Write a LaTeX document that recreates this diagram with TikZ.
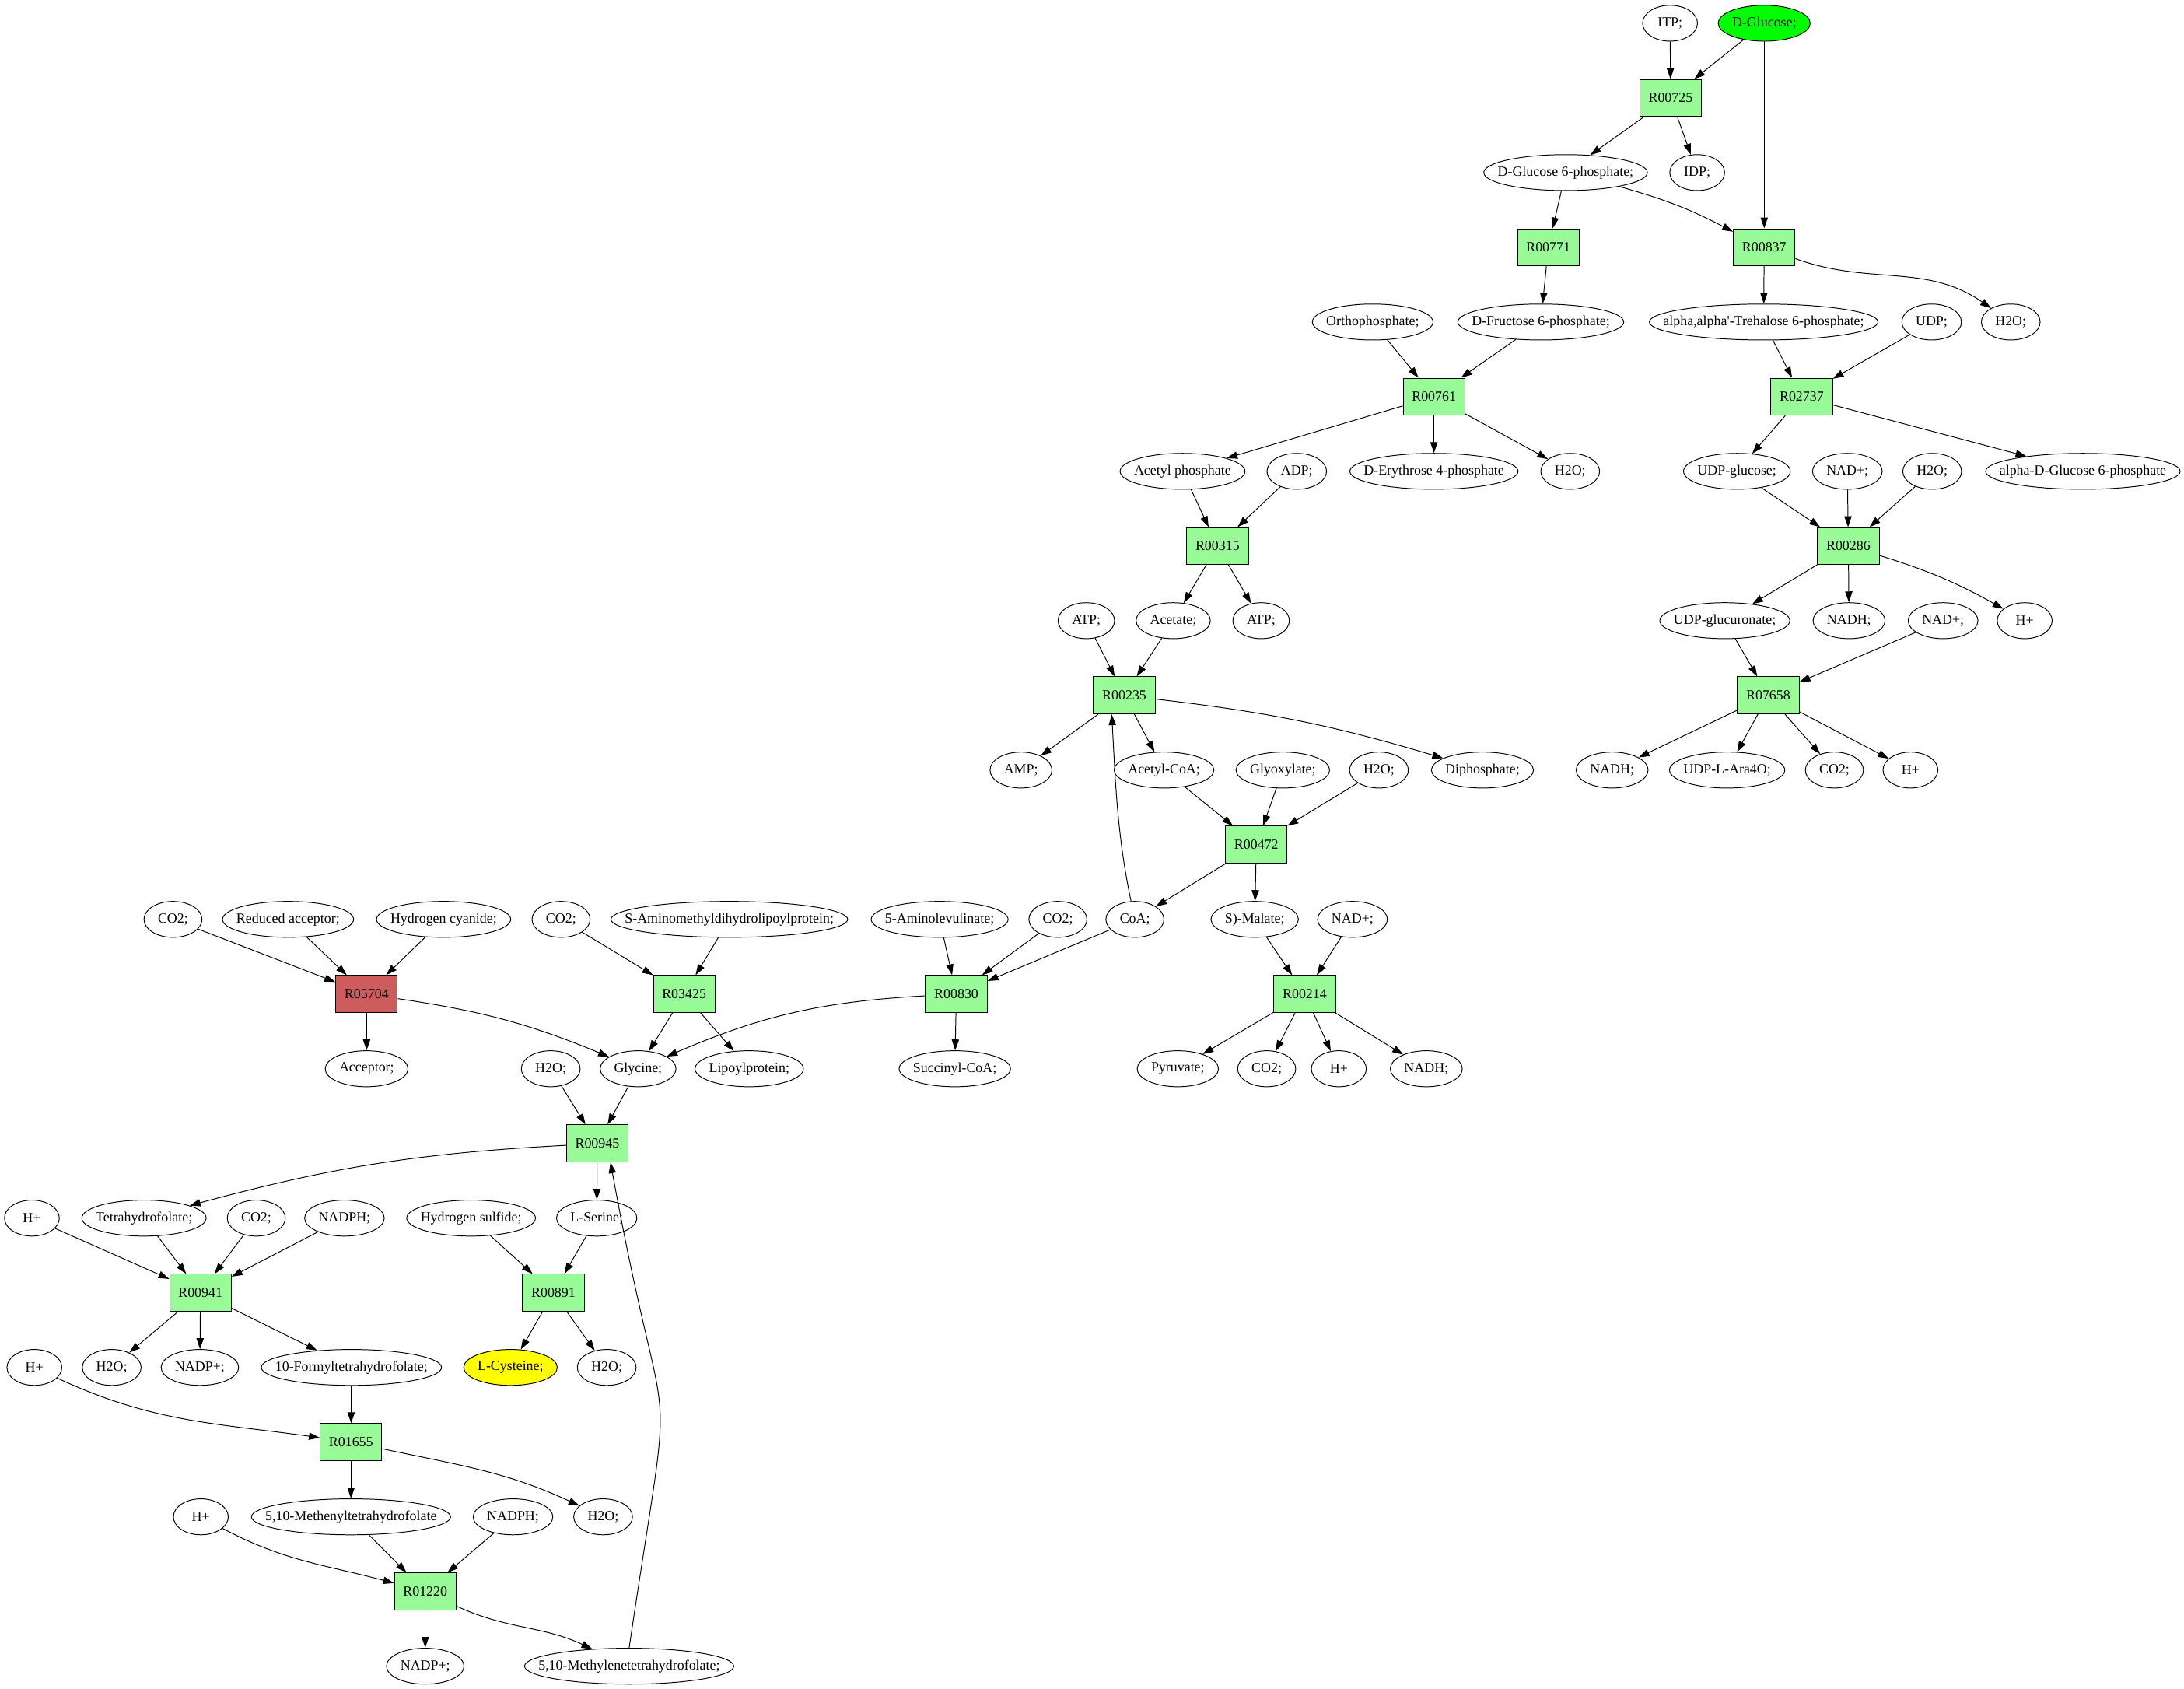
\documentclass[tikz,border=0pt]{standalone}
\usepackage{fontspec}
\setmainfont{Liberation Serif}
\usetikzlibrary{shapes.geometric, arrows.meta}
\newsavebox{\metbox}
\definecolor{rxngreen}{HTML}{98FB98}
\definecolor{rxnred}{HTML}{CD5C5C}
\definecolor{glcgreen}{HTML}{00FF00}
\definecolor{cysyellow}{HTML}{FFFF00}
\tikzset{
	rxn/.style={draw, rectangle, fill=rxngreen, minimum height=26.6pt, inner xsep=6.3pt},
	met/.style={draw, ellipse, minimum width=39.4pt, minimum height=25.8pt, inner xsep=7.07pt, inner ysep=1pt,
		execute at begin node={\setbox\metbox=\hbox\bgroup},
		execute at end node={\egroup\hbox to 0.7071\wd\metbox{\hss\usebox{\metbox}\hss}}},
}

\begin{document}
\begin{tikzpicture}
			[x=1pt, y=-1pt, line width=.55pt, >={Triangle[length=7.8pt,width=5.2pt]},
			font=\fontsize{10pt}{12pt}\selectfont]
			\useasboundingbox (0,0) rectangle (1568,1212);
			% nodes %
			\node[met] (itp) at (1199,16.7) {ITP;};
			\node[met, fill=glcgreen] (glc) at (1266.6,16.7) {D-Glucose;};
			\node[rxn] (r00725) at (1199.4,70.3) {R00725};
			\node[met] (g6p) at (1124,123.9) {D-Glucose 6-phosphate;};
			\node[met] (idp) at (1218.5,123.9) {IDP;};
			\node[rxn] (r00771) at (1111.6,177.5) {R00771};
			\node[rxn] (r00837) at (1266.6,177.5) {R00837};
			\node[met] (orthop) at (985.5,231.1) {Orthophosphate;};
			\node[met] (f6p) at (1106.2,231.1) {D-Fructose 6-phosphate;};
			\node[met] (tre6p) at (1266.2,231.1) {alpha,alpha\textquotesingle-Trehalose 6-phosphate;};
			\node[met] (udp) at (1386.8,231.1) {UDP;};
			\node[met] (h2oa) at (1443.6,231.1) {H2O;};
			\node[rxn] (r00761) at (1029.5,284.7) {R00761};
			\node[rxn] (r02737) at (1293.5,284.7) {R02737};
			\node[met] (acp) at (849,338.3) {Acetyl phosphate};
			\node[met] (adp) at (931,338.3) {ADP;};
			\node[met] (e4p) at (1029.5,338.3) {D-Erythrose 4-phosphate};
			\node[met] (h2ob) at (1127.3,338.3) {H2O;};
			\node[met] (udpglc) at (1247,338.3) {UDP-glucose;};
			\node[met] (nada) at (1326.3,338.3) {NAD+;};
			\node[met] (h2oc) at (1387.2,338.3) {H2O;};
			\node[met] (ag6p) at (1495.4,338.3) {alpha-D-Glucose 6-phosphate};
			\node[rxn] (r00315) at (874.1,391.9) {R00315};
			\node[rxn] (r00286) at (1327,391.9) {R00286};
			\node[met] (atpa) at (779.9,445.5) {ATP;};
			\node[met] (acetate) at (842.3,445.5) {Acetate;};
			\node[met] (atpb) at (905.4,445.5) {ATP;};
			\node[met] (udpgla) at (1238.3,445.5) {UDP-glucuronate;};
			\node[met] (nadha) at (1327.5,445.5) {NADH;};
			\node[met] (nadb) at (1395,445.5) {NAD+;};
			\node[met] (ha) at (1453.6,445.5) {H+};
			\node[rxn] (r00235) at (807.2,499.1) {R00235};
			\node[rxn] (r07658) at (1269.5,499.1) {R07658};
			\node[met] (amp) at (733,552.7) {AMP;};
			\node[met] (accoa) at (835.7,552.7) {Acetyl-CoA;};
			\node[met] (glyox) at (921,552.7) {Glyoxylate;};
			\node[met] (h2od) at (990,552.7) {H2O;};
			\node[met] (ppi) at (1064.3,552.7) {Diphosphate;};
			\node[met] (nadhb) at (1157.4,552.7) {NADH;};
			\node[met] (ara4o) at (1240,552.7) {UDP-L-Ara4O;};
			\node[met] (co2a) at (1317,552.7) {CO2;};
			\node[met] (hb) at (1371.6,552.7) {H+};
			\node[rxn] (r00472) at (902,606.3) {R00472};
			\node[met] (co2b) at (124.2,659.9) {CO2;};
			\node[met] (redacc) at (206.8,659.9) {Reduced acceptor;};
			\node[met] (hcn) at (318.5,659.9) {Hydrogen cyanide;};
			\node[met] (co2c) at (402.8,659.9) {CO2;};
			\node[met] (samdlp) at (523.6,659.9) {S-Aminomethyldihydrolipoylprotein;};
			\node[met] (ala) at (674.6,659.9) {5-Aminolevulinate;};
			\node[met] (co2d) at (759.5,659.9) {CO2;};
			\node[met] (coa) at (814.8,659.9) {CoA;};
			\node[met] (mal) at (900.8,659.9) {S)-Malate;};
			\node[met] (nadc) at (971,659.9) {NAD+;};
			\node[rxn, fill=rxnred] (r05704) at (263.2,713.5) {R05704};
			\node[rxn] (r03425) at (491.2,713.5) {R03425};
			\node[rxn] (r00830) at (686.6,713.5) {R00830};
			\node[rxn] (r00214) at (936.7,713.5) {R00214};
			\node[met] (acc) at (263.2,767.1) {Acceptor;};
			\node[met] (h2oe) at (395.4,767.1) {H2O;};
			\node[met] (gly) at (458.1,767.1) {Glycine;};
			\node[met] (lip) at (537.9,767.1) {Lipoylprotein;};
			\node[met] (succoa) at (685.5,767.1) {Succinyl-CoA;};
			\node[met] (pyr) at (845.6,767.1) {Pyruvate;};
			\node[met] (co2e) at (909.4,767.1) {CO2;};
			\node[met] (hc) at (961.2,767.1) {H+};
			\node[met] (nadhc) at (1024,767.1) {NADH;};
			\node[rxn] (r00945) at (428.8,820.7) {R00945};
			\node[met] (hd) at (22.9,874.3) {H+};
			\node[met] (thf) at (103.4,874.3) {Tetrahydrofolate;};
			\node[met] (co2f) at (184,874.3) {CO2;};
			\node[met] (nadpha) at (247.3,874.3) {NADPH;};
			\node[met] (h2s) at (338.2,874.3) {Hydrogen sulfide;};
			\node[met] (ser) at (428.4,874.3) {L-Serine;};
			\node[rxn] (r00941) at (143.9,927.9) {R00941};
			\node[rxn] (r00891) at (397.3,927.9) {R00891};
			\node[met] (he) at (24.7,981.5) {H+};
			\node[met] (h2of) at (80.2,981.5) {H2O;};
			\node[met] (nadpa) at (143.5,981.5) {NADP+;};
			\node[met] (fthf) at (252.3,981.5) {10-Formyltetrahydrofolate;};
			\node[met, fill=cysyellow] (cys) at (366.5,981.5) {L-Cysteine;};
			\node[met] (h2og) at (435.6,981.5) {H2O;};
			\node[rxn] (r01655) at (252,1035.1) {R01655};
			\node[met] (hf) at (144.2,1088.7) {H+};
			\node[met] (mthf) at (252,1088.7) {5,10-Methenyltetrahydrofolate};
			\node[met] (nadphb) at (368.3,1088.7) {NADPH;};
			\node[met] (h2oh) at (433,1088.7) {H2O;};
			\node[rxn] (r01220) at (305.3,1142.3) {R01220};
			\node[met] (nadpb) at (305.3,1195.9) {NADP+;};
			\node[met] (mlthf) at (451.7,1195.9) {5,10-Methylenetetrahydrofolate;};

			% edges %
			\draw[->] (itp) -- (r00725);
			\draw[->] (glc) -- (r00725);
			\draw[->] (r00725) -- (g6p);
			\draw[->] (r00725) -- (idp);
			\draw[->] (glc) -- (r00837);
			\draw[->] (g6p) -- (r00771);
			\draw[->] (g6p) to [bend left=6] (r00837);
			\draw[->] (r00771) -- (f6p);
			\draw[->] (r00837) -- (tre6p);
			\draw[->] (r00837) to [out=-20,in=145] (h2oa);
			\draw[->] (orthop) -- (r00761);
			\draw[->] (f6p) -- (r00761);
			\draw[->] (tre6p) -- (r02737);
			\draw[->] (udp) -- (r02737);
			\draw[->] (r00761) -- (acp);
			\draw[->] (r00761) -- (e4p);
			\draw[->] (r00761) -- (h2ob);
			\draw[->] (r02737) -- (udpglc);
			\draw[->] (r02737) -- (ag6p);
			\draw[->] (acp) -- (r00315);
			\draw[->] (adp) -- (r00315);
			\draw[->] (udpglc) -- (r00286);
			\draw[->] (nada) -- (r00286);
			\draw[->] (h2oc) -- (r00286);
			\draw[->] (r00315) -- (acetate);
			\draw[->] (r00315) -- (atpb);
			\draw[->] (r00286) -- (udpgla);
			\draw[->] (r00286) -- (nadha);
			\draw[->] (r00286) to [bend left=6] (ha);
			\draw[->] (atpa) -- (r00235);
			\draw[->] (acetate) -- (r00235);
			\draw[->] (udpgla) -- (r07658);
			\draw[->] (nadb) -- (r07658);
			\draw[->] (r00235) -- (amp);
			\draw[->] (r00235) -- (accoa);
			\draw[->] (r00235) to [bend left=5] (ppi);
			\draw[->] (r07658) -- (nadhb);
			\draw[->] (r07658) -- (ara4o);
			\draw[->] (r07658) -- (co2a);
			\draw[->] (r07658) -- (hb);
			\draw[->] (accoa) -- (r00472);
			\draw[->] (glyox) -- (r00472);
			\draw[->] (h2od) -- (r00472);
			\draw[->] (r00472) -- (coa);
			\draw[->] (r00472) -- (mal);
			\draw[->] (coa) to [out=102,in=-87, looseness=0.9] ([xshift=-9pt]r00235.south);
			\draw[->] (coa) -- (r00830);
			\draw[->] (co2b) -- (r05704);
			\draw[->] (redacc) -- (r05704);
			\draw[->] (hcn) -- (r05704);
			\draw[->] (co2c) -- (r03425);
			\draw[->] (samdlp) -- (r03425);
			\draw[->] (ala) -- (r00830);
			\draw[->] (co2d) -- (r00830);
			\draw[->] (mal) -- (r00214);
			\draw[->] (nadc) -- (r00214);
			\draw[->] (r05704) -- (acc);
			\draw[->] (r05704) to [bend left=7] (gly);
			\draw[->] (r03425) -- (gly);
			\draw[->] (r03425) -- (lip);
			\draw[->] (r00830) to [bend right=10] (gly);
			\draw[->] (r00830) -- (succoa);
			\draw[->] (r00214) -- (pyr);
			\draw[->] (r00214) -- (co2e);
			\draw[->] (r00214) -- (hc);
			\draw[->] (r00214) -- (nadhc);
			\draw[->] (h2oe) -- (r00945);
			\draw[->] (gly) -- (r00945);
			\draw[->] (r00945) to [bend right=6] (thf);
			\draw[->] (r00945) -- (ser);
			\draw[->] (hd) -- (r00941);
			\draw[->] (thf) -- (r00941);
			\draw[->] (co2f) -- (r00941);
			\draw[->] (nadpha) -- (r00941);
			\draw[->] (h2s) -- (r00891);
			\draw[->] (ser) -- (r00891);
			\draw[->] (r00941) -- (h2of);
			\draw[->] (r00941) -- (nadpa);
			\draw[->] (r00941) -- (fthf);
			\draw[->] (r00891) -- (cys);
			\draw[->] (r00891) -- (h2og);
			\draw[->] (he) to [out=-25,in=172] (r01655);
			\draw[->] (fthf) -- (r01655);
			\draw[->] (r01655) -- (mthf);
			\draw[->] (r01655) to [out=-12,in=155] (h2oh);
			\draw[->] (hf) to [out=-28,in=165] (r01220);
			\draw[->] (mthf) -- (r01220);
			\draw[->] (nadphb) -- (r01220);
			\draw[->] (r01220) -- (nadpb);
			\draw[->] (r01220) to [out=-25,in=155] (mlthf);
			\draw[->] (mlthf.north) .. controls +(34,-230) and +(42,230) .. (r00945.-55);
			\end{tikzpicture}
\end{document}
